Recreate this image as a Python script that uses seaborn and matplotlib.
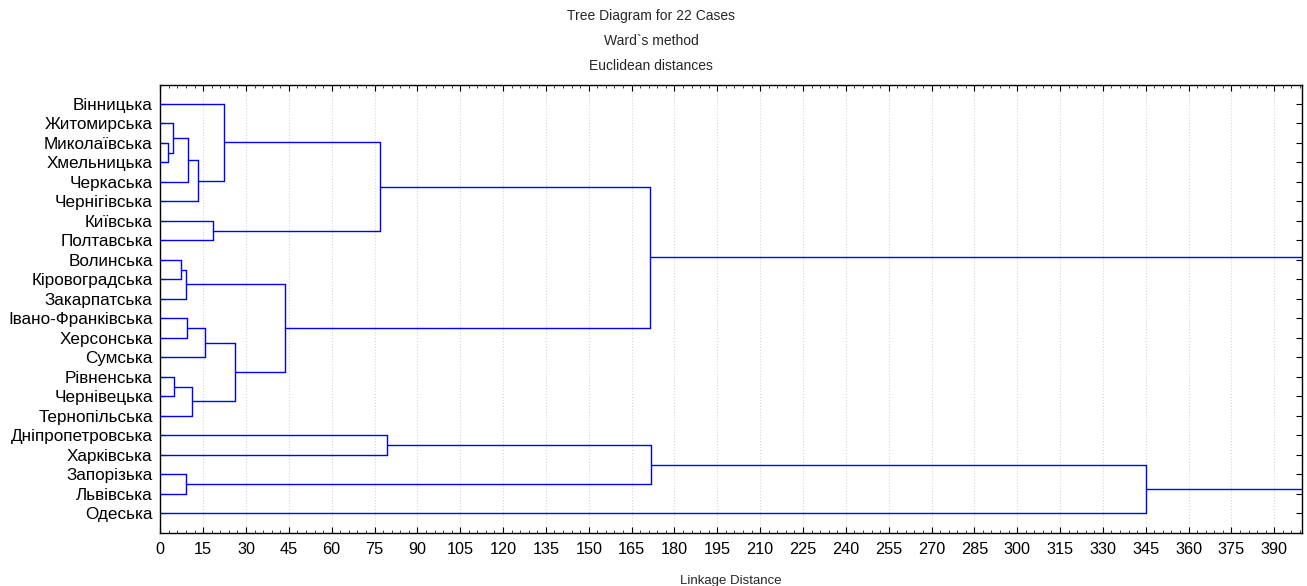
import numpy as np
import pandas as pd
import matplotlib
matplotlib.use("Agg")
import matplotlib.pyplot as plt
import seaborn as sns
from matplotlib.ticker import MultipleLocator

# ---- data ----
leaves = ["Вінницька", "Житомирська", "Миколаївська", "Хмельницька", "Черкаська",
          "Чернігівська", "Київська", "Полтавська", "Волинська", "Кіровоградська",
          "Закарпатська", "Івано-Франківська", "Херсонська", "Сумська", "Рівненська",
          "Чернівецька", "Тернопільська", "Дніпропетровська", "Харківська",
          "Запорізька", "Львівська", "Одеська"]

# linkage steps: cluster id = 22 + step index
merge_left = [2, 1, 14, 8, 25, 19, 11, 23, 24, 29, 28, 6, 0, 32, 26, 34, 17, 37, 38, 40, 39]
merge_right = [3, 22, 15, 9, 10, 20, 12, 4, 16, 5, 13, 7, 31, 30, 35, 33, 18, 36, 27, 21, 41]
merge_height = [2.7, 4.4, 4.7, 7.2, 9.1, 9.1, 9.5, 9.6, 11.2, 13.3, 15.7, 18.3, 22.3,
                 26.1, 43.8, 77.0, 79.5, 171.5, 171.8, 345.2, 430.0]

title_lines = ["Tree Diagram for 22 Cases", "Ward`s method", "Euclidean distances"]
x_ticks = list(range(0, 391, 15))

# ---- build segments ----
n = len(leaves)
pos = {i: i + 1 for i in range(n)}
hgt = {i: 0.0 for i in range(n)}
rows = []
seg = 0
for k, (a, b, h) in enumerate(zip(merge_left, merge_right, merge_height)):
    cid = n + k
    for c in (a, b):
        rows.append((seg, hgt[c], pos[c])); rows.append((seg, h, pos[c])); seg += 1
    rows.append((seg, h, pos[a])); rows.append((seg, h, pos[b])); seg += 1
    pos[cid] = (pos[a] + pos[b]) / 2.0
    hgt[cid] = h
df = pd.DataFrame(rows, columns=["seg", "dist", "leaf"])

# ---- plot ----
sns.set_theme(style="ticks")
plt.rcParams["font.family"] = ["Liberation Sans", "DejaVu Sans"]
fig = plt.figure(figsize=(13.07, 5.86), dpi=100)
ax = fig.add_axes([160.3 / 1307, 1 - 532.8 / 586, (1301.7 - 160.3) / 1307, (532.8 - 84.5) / 586])

sns.lineplot(data=df, x="dist", y="leaf", units="seg", estimator=None, sort=False,
             color="#0000ff", linewidth=1.0, ax=ax, legend=False)

ax.set_xlim(0, 399.6)
ax.set_ylim(n + 1, 0)
ax.set_xticks(x_ticks)
ax.xaxis.set_minor_locator(MultipleLocator(3))
ax.set_yticks(range(1, n + 1))
ax.set_yticklabels(leaves)
ax.grid(axis="x", which="major", color="#d6d6d6", linestyle=":", linewidth=0.8)
ax.set_axisbelow(True)
ax.tick_params(axis="both", which="major", direction="in", length=4, width=0.8,
               colors="black", top=True, right=True)
ax.tick_params(axis="x", which="minor", direction="in", length=2, width=0.6, top=True)
ax.tick_params(axis="y", pad=5.5, labelsize=12.3)
ax.tick_params(axis="x", pad=6.5, labelsize=11.7)
for s in ax.spines.values():
    s.set_color("black"); s.set_linewidth(1.0)
ax.set_xlabel("Linkage Distance", fontsize=9.5, labelpad=13)
ax.set_ylabel("")

for i, t in enumerate(title_lines):
    fig.text(651 / 1307, 1 - (16 + 25 * i) / 586, t, ha="center", va="center", fontsize=10)

fig.savefig("out.png", dpi=100)
